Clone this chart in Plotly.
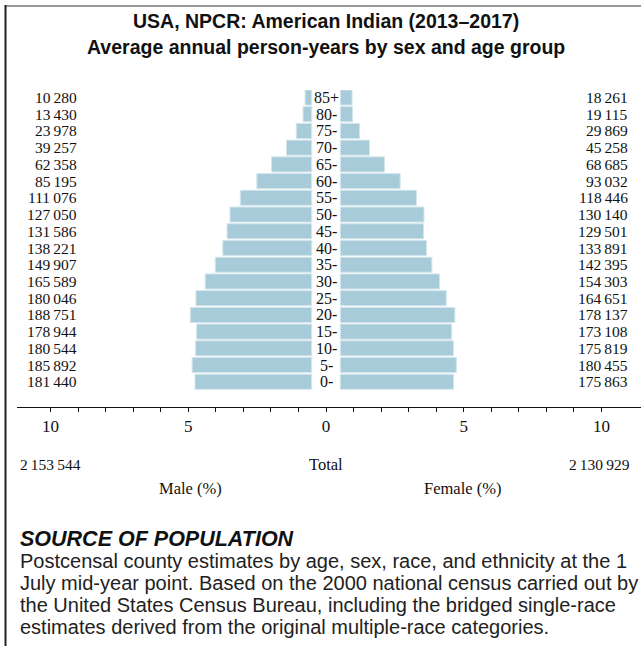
import plotly.graph_objects as go

# ---- data ----
ages = ["0-", "5-", "10-", "15-", "20-", "25-", "30-", "35-", "40-", "45-",
        "50-", "55-", "60-", "65-", "70-", "75-", "80-", "85+"]
male = [181440, 185892, 180544, 178944, 188751, 180046, 165589, 149907, 138221,
        131586, 127050, 111076, 85195, 62358, 39257, 23978, 13430, 10280]
female = [175863, 180455, 175819, 173108, 178137, 164651, 154303, 142395, 133891,
          129501, 130140, 118446, 93032, 68685, 45258, 29869, 19115, 18261]
male_total = 2153544
female_total = 2130929
tick_vals = [-10, -5, 0, 5, 10]
tick_text = ["10", "5", "0", "5", "10"]
minor_vals = list(range(-10, 11))

grand = male_total + female_total
male_pct = [v / grand * 100 for v in male]
female_pct = [v / grand * 100 for v in female]

def fmt(v):
    return f"{v:,}".replace(",", "\u2009")

# ---- layout geometry ----
W, H = 641, 646
L, R, T, B = 17, 0, 90, 239
PW, PH = W - L - R, H - T - B
GAP = 0.52
BAR = "#a7cbd9"
EDGE = "#d3e6ed"
SERIF = "Liberation Serif"
SANS = "Liberation Sans"
INK = "#111111"

def px(x):
    return (x - L) / PW

def py(y):
    return (H - B - y) / PH

rows = list(range(len(ages)))

fig = go.Figure()
fig.add_trace(go.Bar(y=rows, x=[-p for p in male_pct], base=[-GAP] * len(rows),
                     orientation="h", width=0.9,
                     marker=dict(color=BAR, line=dict(color=EDGE, width=1)),
                     hoverinfo="skip", showlegend=False))
fig.add_trace(go.Bar(y=rows, x=female_pct, base=[GAP] * len(rows),
                     orientation="h", width=0.9,
                     marker=dict(color=BAR, line=dict(color=EDGE, width=1)),
                     hoverinfo="skip", showlegend=False))

ann = []
for i, a in enumerate(ages):
    ann.append(dict(x=0, y=i, xref="x", yref="y", text=a, showarrow=False,
                    xanchor="center", yanchor="middle",
                    font=dict(family=SERIF, size=16, color=INK)))
    ann.append(dict(x=px(79), y=i, xref="paper", yref="y", text=fmt(male[i]),
                    showarrow=False, xanchor="right", yanchor="middle",
                    font=dict(family=SERIF, size=15.5, color=INK)))
    ann.append(dict(x=px(630), y=i, xref="paper", yref="y", text=fmt(female[i]),
                    showarrow=False, xanchor="right", yanchor="middle",
                    font=dict(family=SERIF, size=15.5, color=INK)))

def txt(x, y, s, size, anchor="center", family=SERIF, color=INK):
    ann.append(dict(x=px(x), y=py(y), xref="paper", yref="paper", text=s,
                    showarrow=False, xanchor=anchor, yanchor="middle",
                    font=dict(family=family, size=size, color=color)))

txt(18, 464, fmt(male_total), 15.5, "left")
txt(326, 464, "Total", 16.5)
txt(632, 464, fmt(female_total), 15.5, "right")
txt(190, 488, "Male (%)", 16.5)
txt(462, 488, "Female (%)", 16.5)

txt(326, 21, "<b>USA, NPCR: American Indian (2013–2017)</b>", 19.5, family=SANS)
txt(326, 47, "<b>Average annual person-years by sex and age group</b>", 19.5, family=SANS)

txt(18, 539, "<b><i>SOURCE OF POPULATION</i></b>", 21.5, "left", family=SANS)
body = ["Postcensal county estimates by age, sex, race, and ethnicity at the 1",
        "July mid-year point. Based on the 2000 national census carried out by",
        "the United States Census Bureau, including the bridged single-race",
        "estimates derived from the original multiple-race categories."]
for k, line in enumerate(body):
    txt(18, 561 + 22 * k, line, 20, "left", family=SANS, color="#222")

y_bottom = -(407 - 381.8) / 16.72
y_top = 17 + (97.5 - 90) / 16.72
x_left = (L - 326) / 27.55
x_right = x_left + PW / 27.55

fig.update_layout(
    width=W, height=H,
    margin=dict(l=L, r=R, t=T, b=B, pad=0),
    paper_bgcolor="white", plot_bgcolor="white",
    barmode="overlay",
    xaxis=dict(range=[x_left, x_right], showgrid=False, zeroline=False,
               showline=True, linecolor=INK, linewidth=1,
               tickmode="array", tickvals=tick_vals, ticktext=tick_text,
               ticks="outside", ticklen=4, tickcolor=INK, tickwidth=1,
               minor=dict(tickmode="array", tickvals=minor_vals, ticks="outside",
                          ticklen=4, tickcolor=INK, tickwidth=1),
               tickfont=dict(family=SERIF, size=17, color=INK),
               fixedrange=True),
    yaxis=dict(range=[y_bottom, y_top], visible=False, fixedrange=True),
    annotations=ann,
    shapes=[
        dict(type="line", xref="paper", yref="paper", x0=px(5), x1=px(645),
             y0=py(6), y1=py(6), line=dict(color="#999999", width=2)),
        dict(type="line", xref="paper", yref="paper", x0=px(5.5), x1=px(5.5),
             y0=py(5), y1=py(650), line=dict(color="#222222", width=2)),
    ],
)

fig.write_html("out.html", config={"displayModeBar": False},
               post_script="document.body.style.margin='0';document.body.style.overflow='hidden';")
